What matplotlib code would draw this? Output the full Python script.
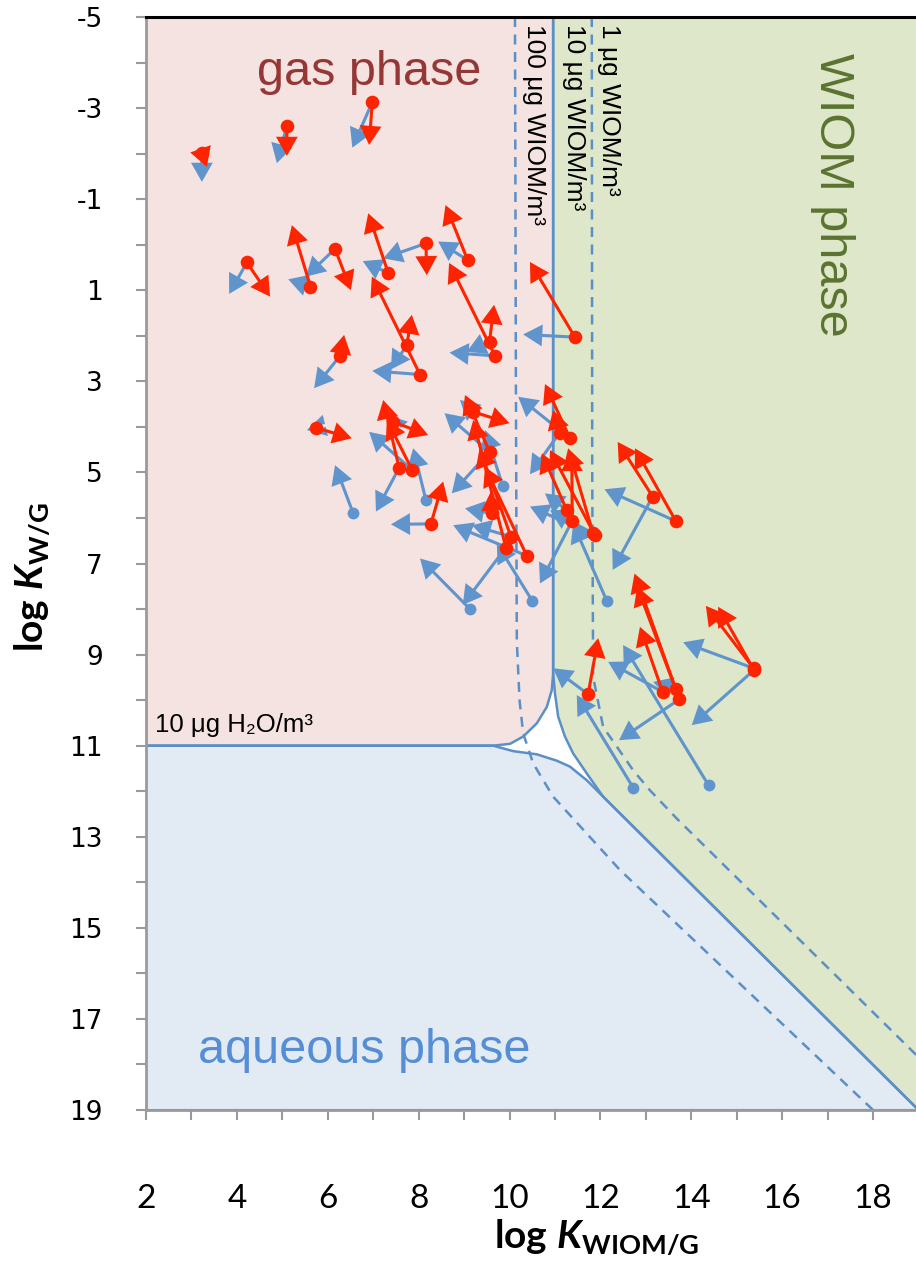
import matplotlib.pyplot as plt
import numpy as np

plt.rcParams['axes.unicode_minus'] = False
plt.rcParams['mathtext.fontset'] = 'custom'
plt.rcParams['mathtext.rm'] = 'Lato:bold'
plt.rcParams['mathtext.it'] = 'Lato:italic:bold'
plt.rcParams['mathtext.bf'] = 'Lato:bold'

# compounds plotted with a red dot: start, red arrow end, blue arrow end
red_x0 = [3.23, 5.10, 6.98, 4.22, 5.62, 6.16, 7.33, 8.16, 9.08, 7.74, 8.03, 6.27, 9.56, 9.68, 11.44,
          5.74, 7.57, 7.86, 7.44, 8.27, 9.20, 9.56, 9.62, 10.03, 9.92, 10.38, 11.10, 11.33, 11.26, 11.38,
          11.88, 11.84, 13.15, 13.66, 11.73, 13.37, 13.66, 13.74, 15.37, 15.38]
red_y0 = [-2.02, -2.61, -3.13, 0.39, 0.92, 0.09, 0.62, -0.03, 0.34, 2.20, 2.85, 2.44, 2.13, 2.44, 2.03,
          4.02, 4.90, 4.95, 3.89, 6.13, 3.67, 4.55, 5.90, 6.41, 6.65, 6.83, 4.13, 4.25, 5.83, 6.06,
          6.38, 6.34, 5.53, 6.07, 9.87, 9.82, 9.76, 9.98, 9.30, 9.34]
red_x1 = [3.34, 5.10, 6.91, 4.73, 5.21, 6.51, 6.89, 8.18, 8.59, 7.85, 6.97, 6.36, 9.66, 8.67, 10.45,
          6.53, 7.22, 7.30, 8.21, 8.54, 10.00, 9.02, 9.59, 9.34, 9.20, 9.46, 10.96, 10.78, 10.71, 11.37,
          10.89, 11.29, 12.38, 12.76, 11.95, 12.87, 12.75, 12.81, 14.32, 14.59]
red_y1 = [-1.71, -1.95, -2.19, 1.14, -0.43, 1.00, -0.69, 0.67, -0.87, 1.54, 0.70, 1.98, 1.32, 0.40, 0.38,
          4.25, 3.41, 3.85, 4.18, 5.20, 3.92, 3.30, 5.42, 4.47, 3.85, 4.88, 3.63, 3.06, 4.58, 4.55,
          4.51, 4.47, 4.33, 4.47, 8.64, 8.39, 7.22, 7.51, 7.93, 7.95]
red_bx = [3.23, 4.88, 6.54, 3.83, 5.13, 5.52, 6.77, 7.22, 8.43, 7.39, 6.98, 5.70, 9.06, 8.68, 10.30,
          5.54, 7.06, 6.91, 7.30, 7.39, 8.91, 8.73, 9.02, 9.17, 8.97, 8.76, 10.45, 10.19, 10.78, 10.67,
          10.45, 10.89, 12.27, 12.09, 10.96, 12.17, 13.16, 12.41, 13.82, 14.01]
red_by = [-1.38, -1.79, -2.13, 1.08, 0.76, 0.70, 0.36, 0.30, -0.07, 2.74, 2.77, 3.15, 2.35, 2.37, 1.97,
          4.07, 5.86, 4.11, 3.74, 6.14, 3.41, 5.46, 5.79, 6.16, 7.91, 6.16, 5.04, 3.34, 5.46, 7.44,
          5.75, 5.83, 7.14, 5.37, 9.30, 9.16, 9.60, 10.88, 8.73, 10.55]

# compounds plotted with a blue dot
blue_x0 = [6.56, 8.16, 9.13, 9.85, 10.50, 12.14, 12.72, 14.38, 9.56]
blue_y0 = [5.90, 5.61, 8.00, 5.30, 7.82, 7.82, 11.92, 11.87, 4.55]
blue_x1 = [6.16, 7.88, 8.03, 9.46, 9.72, 11.40, 11.48, 12.50, 8.57]
blue_y1 = [4.84, 4.47, 6.89, 4.07, 6.56, 6.12, 9.89, 8.79, 3.70]

# phase boundaries (10 ug/m3 WIOM, 10 ug/m3 water)
gas_bx = [2, 9.64, 10.01, 10.30, 10.60, 10.82, 10.93, 10.96, 10.96]
gas_by = [11, 11.0, 10.96, 10.80, 10.51, 10.15, 9.78, 9.41, -5]
water_bx = [2, 9.64, 10.08, 10.60, 11.04, 11.33, 11.70, 12.06, 19]
water_by = [11, 11.0, 11.12, 11.19, 11.33, 11.46, 11.76, 12.12, 19]
wiom_bx = [10.96, 10.96, 11.00, 11.07, 11.22, 11.40, 11.70, 12.06, 19]
wiom_by = [-5, 9.41, 9.85, 10.36, 10.80, 11.17, 11.61, 12.12, 19]
# 100 and 1 ug/m3 WIOM boundaries
d100_x = [10.12, 10.14, 10.16, 10.22, 10.30, 10.52, 10.96, 12.43, 18.0]
d100_y = [-5, 3, 8.7, 10.0, 10.73, 11.39, 12.12, 13.73, 19.0]
d1_x = [11.81, 11.82, 11.84, 12.06, 12.36, 12.72, 13.09, 13.68, 19.0]
d1_y = [-5, 5, 9.49, 10.59, 11.02, 11.54, 11.98, 12.60, 17.84]

line_c = '#5B8FC7'
red_c = '#FF2400'
blue_c = '#5F94CC'

fig = plt.figure(figsize=(9.16, 12.67), dpi=100)
ax = fig.add_axes([146 / 916, 1 - 1110 / 1267, 772.5 / 916, 1093 / 1267])
ax.set_xlim(2, 19)
ax.set_ylim(19, -5)

# phase regions
ax.fill([2] + gas_bx, [-5] + gas_by, color='#F5E3E2', lw=0, zorder=0)
ax.fill(water_bx + [2], water_by + [19], color='#E2EAF4', lw=0, zorder=0)
ax.fill(wiom_bx + [19], wiom_by + [-5], color='#DEE7C9', lw=0, zorder=0)

ax.plot(gas_bx, gas_by, color=line_c, lw=1.8, zorder=2)
ax.plot(water_bx, water_by, color=line_c, lw=1.8, zorder=2)
ax.plot(wiom_bx, wiom_by, color=line_c, lw=1.8, zorder=2)
ax.plot(d100_x, d100_y, color=line_c, lw=1.8, ls=(0, (4, 3)), zorder=2)
ax.plot(d1_x, d1_y, color=line_c, lw=1.8, ls=(0, (4, 3)), zorder=2)
ax.plot([2, 2, 19], [-5, 19, 19], color=line_c, lw=1.5, zorder=2)


def arrows(xs0, ys0, xs1, ys1, color, z):
    # x and y scales are nearly equal in pixels, so data units work for the heads
    for a, b, c, d in zip(xs0, ys0, xs1, ys1):
        ax.arrow(a, b, c - a, d - b, width=0.068, head_width=0.48, head_length=0.42,
                 length_includes_head=True, fc=color, ec='none', lw=0, zorder=z)


arrows(red_x0, red_y0, red_bx, red_by, blue_c, 3)
arrows(blue_x0, blue_y0, blue_x1, blue_y1, blue_c, 3)
ax.plot(blue_x0, blue_y0, 'o', color=blue_c, ms=8.5, mew=0, zorder=4)
arrows(red_x0, red_y0, red_x1, red_y1, red_c, 5)
ax.plot(red_x0, red_y0, 'o', color=red_c, ms=9.8, mew=0, zorder=6)

# labels inside the plot
ax.text(4.44, -3.51, 'gas phase', fontsize=35, color='#953735', family='Liberation Sans',
        ha='left', va='baseline', zorder=7)
ax.text(3.14, 17.97, 'aqueous phase', fontsize=35, color='#558ED5', family='Liberation Sans',
        ha='left', va='baseline', zorder=7)
ax.text(17.1, -4.2, 'WIOM phase', fontsize=35, color='#5B7330', family='Liberation Sans',
        ha='center', va='top', rotation=-90, zorder=7)
small = dict(fontsize=19, color='black', family=['Liberation Sans', 'DejaVu Sans'],
             ha='center', va='top', rotation=-90, zorder=7)
ax.text(10.54, -4.85, '100 μg WIOM/m³', **small)
ax.text(11.42, -4.85, '10 μg WIOM/m³', **small)
ax.text(12.20, -4.85, '1 μg WIOM/m³', **small)
ax.text(2.2, 10.55, '10 μg H₂O/m³', fontsize=18.5, family=['Liberation Sans', 'DejaVu Sans'],
        ha='left', va='center', zorder=7)

# axes styling
for s in ['left', 'bottom']:
    ax.spines[s].set_color('#9A9A9A')
    ax.spines[s].set_linewidth(2)
ax.spines['top'].set_color('black')
ax.spines['top'].set_linewidth(2.2)
ax.spines['right'].set_visible(False)

ax.set_xticks(np.arange(2, 19, 2))
ax.set_xticks(np.arange(3, 20, 2), minor=True)
ax.set_yticks(np.arange(-5, 20, 2))
ax.set_yticks(np.arange(-4, 19, 2), minor=True)
ax.tick_params(which='both', direction='out', length=7, width=1.5, color='#9A9A9A')
ax.tick_params(axis='x', which='major', pad=46, labelsize=24)
ax.tick_params(axis='y', which='major', pad=24, labelsize=19)
for t in ax.get_xticklabels():
    t.set_family('Lato')
for t in ax.get_yticklabels():
    t.set_family('DejaVu Sans')

fig.text(597 / 916, 1 - 1248 / 1267, r'$\mathrm{log}\ K_{\mathrm{WIOM/G}}$', fontsize=28,
         ha='center', va='baseline')
fig.text(32 / 916, 1 - 577 / 1267, r'$\mathrm{log}\ K_{\mathrm{W/G}}$', fontsize=28,
         ha='center', va='center', rotation=90)

plt.savefig('out.png', dpi=100)
plt.close()
